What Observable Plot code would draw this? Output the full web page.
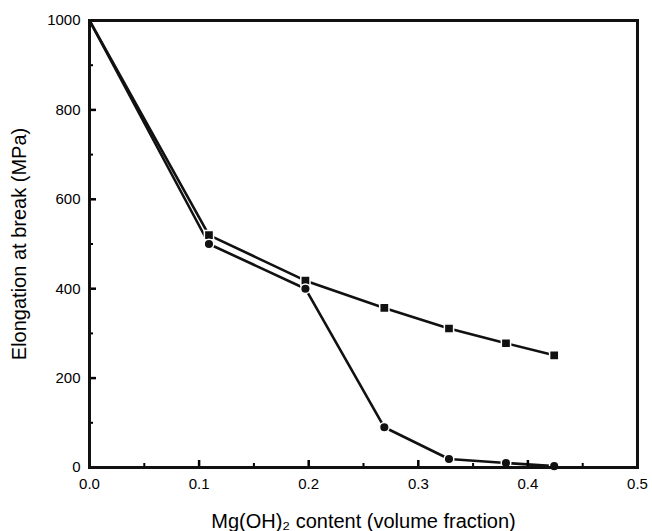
<!DOCTYPE html>
<html>
<head>
<meta charset="utf-8">
<script src="https://cdn.jsdelivr.net/npm/d3@7"></script>
<script src="https://cdn.jsdelivr.net/npm/@observablehq/plot@0.6"></script>
<style>
  html, body { margin: 0; padding: 0; background: #fff; }
  #chart svg { display: block; }
</style>
</head>
<body>
<div id="chart"></div>
<script>
// Data
const contentX = [0, 0.109, 0.197, 0.269, 0.328, 0.380, 0.424];
const squareSeries = [1000, 520, 418, 357, 311, 278, 251];
const circleSeries = [1000, 500, 400, 90, 19, 10, 3];

const xMajorTicks = [0, 0.1, 0.2, 0.3, 0.4, 0.5];
const xMinorTicks = [0.05, 0.15, 0.25, 0.35, 0.45];
const yMajorTicks = [0, 200, 400, 600, 800, 1000];
const yMinorTicks = [100, 300, 500, 700, 900];

const xTitle = "Mg(OH)\u2082 content (volume fraction)";
const yTitle = "Elongation at break (MPa)";

const squares = contentX.map((x, i) => ({x, y: squareSeries[i]}));
const circles = contentX.map((x, i) => ({x, y: circleSeries[i]}));

const font = "'Liberation Sans', Arial, sans-serif";

const chart = Plot.plot({
  width: 652,
  height: 531,
  marginLeft: 89,
  marginRight: 15,
  marginTop: 20,
  marginBottom: 64,
  style: {fontFamily: font, color: "#000", background: "#fff"},
  x: {domain: [0, 0.5]},
  y: {domain: [0, 1000]},
  marks: [
    // lines
    Plot.line(squares, {x: "x", y: "y", stroke: "#111", strokeWidth: 2.6}),
    Plot.line(circles, {x: "x", y: "y", stroke: "#111", strokeWidth: 2.6}),
    // markers (first point hidden under the frame corner)
    Plot.dot(squares.filter(d => d.x > 0), {x: "x", y: "y", symbol: "square", r: 5.2, fill: "#111", stroke: "#fff", strokeWidth: 1.5}),
    Plot.dot(circles.filter(d => d.x > 0), {x: "x", y: "y", symbol: "circle", r: 4.8, fill: "#111", stroke: "#fff", strokeWidth: 1.5}),
    // inward ticks
    Plot.axisX({ticks: xMajorTicks, tickSize: -7, strokeWidth: 2.5, tickFormat: () => "", label: null}),
    Plot.axisX({ticks: xMinorTicks, tickSize: -4, strokeWidth: 2, tickFormat: () => "", label: null}),
    Plot.axisY({ticks: yMajorTicks, tickSize: -7, strokeWidth: 2.5, tickFormat: () => "", label: null}),
    Plot.axisY({ticks: yMinorTicks, tickSize: -4, strokeWidth: 2, tickFormat: () => "", label: null}),
    // tick labels
    Plot.axisX({ticks: xMajorTicks, tickSize: 0, tickPadding: 11, tickFormat: d3.format(".1f"), fontSize: 15, label: null}),
    Plot.axisY({ticks: yMajorTicks, tickSize: 0, tickPadding: 9, tickFormat: d => String(d), fontSize: 15, label: null}),
    // axis titles
    Plot.axisX({ticks: [], label: xTitle, labelAnchor: "center", labelArrow: "none", labelOffset: 60, fontSize: 20}),
    Plot.axisY({ticks: [], label: yTitle, labelAnchor: "center", labelArrow: "none", labelOffset: 78, fontSize: 20}),
    Plot.frame({stroke: "#111", strokeWidth: 3})
  ]
});

document.getElementById("chart").append(chart);
</script>
</body>
</html>
